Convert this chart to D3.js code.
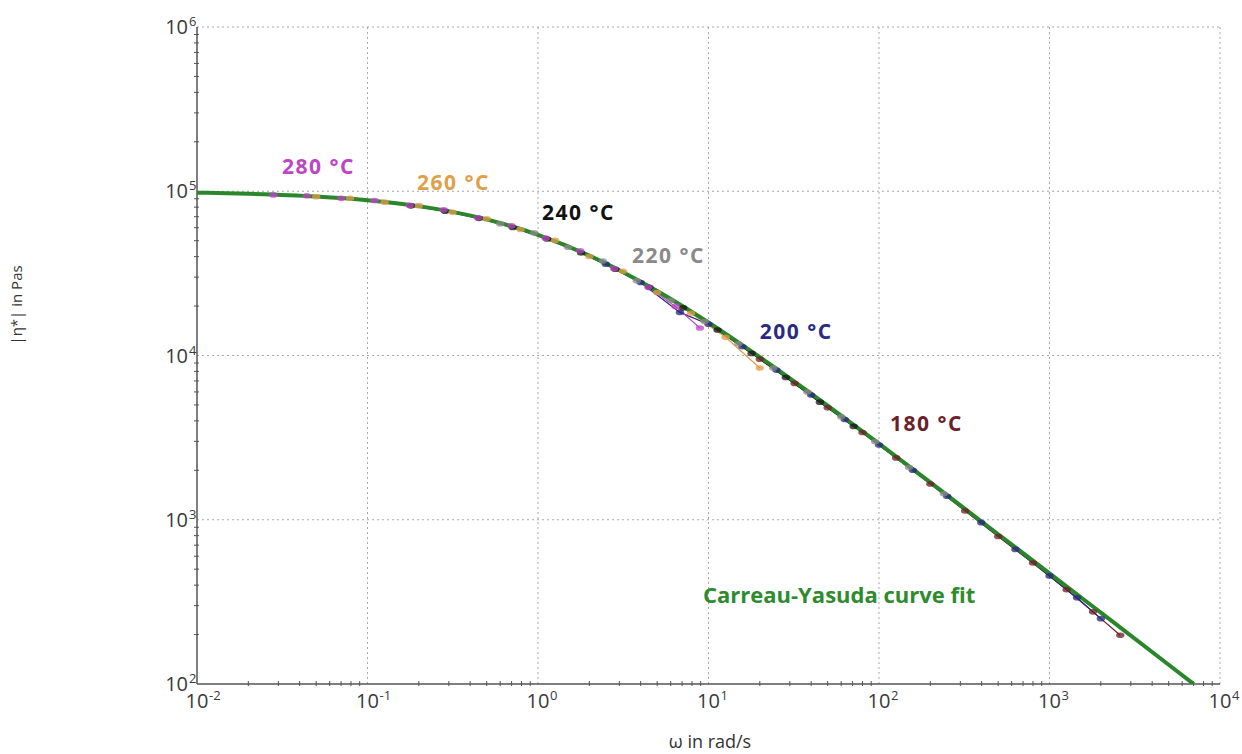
<!DOCTYPE HTML>
<html>
  <head>
    <style>
     * { margin:0;padding:0 }
     body, html {
        height: 100%;
        overflow: hidden;
        background-color: #fff;
     }
     svg text { font-family: "Open Sans", "Noto Sans", sans-serif; }
     .grid { stroke: #a8a8a8; stroke-width: 1; stroke-dasharray: 2,3; fill: none; }
     .axis { stroke: #555; stroke-width: 1.5; fill: none; }
     .tick { stroke: #555; stroke-width: 1; }
     .ticklabel { fill: #3a3a3a; }
     .templabel { font-weight: bold; font-size: 21px; letter-spacing: 1.5px; }
    </style>
    <script type="text/javascript" src="https://cdn.jsdelivr.net/npm/d3@7"></script>
  </head>
  <body>
    <script type="text/javascript">
		var width = 1242,
			height = 754;

		// decade tick exponents
		var xExponents = [-2, -1, 0, 1, 2, 3, 4],
			yExponents = [2, 3, 4, 5, 6];

		// Carreau-Yasuda fit
		var fitOmega = [0.01, 0.02, 0.05, 0.1, 0.2, 0.5, 1, 2, 5, 10, 20, 50, 100, 200, 500, 1000, 2000, 5000, 7000],
			fitEta   = [98000, 96500, 92900, 88200, 81200, 67400, 54300, 40600, 24700, 15900, 9770, 4950, 2905, 1690, 816, 472, 272, 131, 100];

		// measured (shifted) data per temperature
		var omega280 = [0.028, 0.044, 0.07, 0.11, 0.177, 0.28, 0.444, 0.70, 1.11, 1.77, 2.8, 4.44, 6.4, 8.9],
			eta280   = [95000, 93800, 90500, 87800, 82000, 77200, 69000, 61600, 51800, 43400, 33800, 26000, 19900, 14700];
		var omega260 = [0.05, 0.079, 0.126, 0.2, 0.315, 0.5, 0.79, 1.26, 2.0, 3.15, 5.0, 7.9, 12.6, 20],
			eta260   = [92500, 90600, 85800, 81700, 74400, 67900, 58500, 50200, 40100, 32600, 24200, 18100, 12900, 8400];
		var omega240 = [0.18, 0.285, 0.45, 0.71, 1.13, 1.79, 2.84, 4.5, 7.1, 11.3, 17.9, 28.4, 45, 71],
			eta240   = [81500, 75600, 68400, 60200, 51200, 42100, 33500, 26000, 19500, 14300, 10300, 7350, 5200, 3700];
		var omega220 = [0.6, 0.95, 1.5, 2.4, 3.8, 6.0, 9.5, 15, 24, 38, 60, 95, 150, 240],
			eta220   = [63500, 55800, 45600, 37600, 28500, 21700, 16100, 11800, 8400, 6000, 4230, 2980, 2080, 1440];
		var omega200 = [2.5, 4.0, 6.8, 10, 15.8, 25, 40, 63, 100, 158, 251, 398, 631, 1000, 1450, 2000],
			eta200   = [36000, 27800, 18300, 15500, 11300, 8150, 5750, 4080, 2850, 2000, 1390, 960, 660, 455, 335, 250];
		var omega180 = [20, 32, 50, 80, 126, 200, 320, 500, 800, 1260, 1800, 2600],
			eta180   = [9500, 6750, 4800, 3400, 2380, 1650, 1130, 790, 545, 375, 275, 198];

		var series = [
			{ name: "180 °C", color: "#6b1f24", omega: omega180, eta: eta180 },
			{ name: "200 °C", color: "#26267e", omega: omega200, eta: eta200 },
			{ name: "220 °C", color: "#8a8a8a", omega: omega220, eta: eta220 },
			{ name: "240 °C", color: "#151515", omega: omega240, eta: eta240 },
			{ name: "260 °C", color: "#dd9c48", omega: omega260, eta: eta260 },
			{ name: "280 °C", color: "#bd45c6", omega: omega280, eta: eta280 }
		];

		// label anchor points (omega, eta) next to each series
		var labels = [
			{ text: "280 °C", color: "#bd45c6", w: 0.0315, e: 127000 },
			{ text: "260 °C", color: "#e0a04a", w: 0.195, e: 102000 },
			{ text: "240 °C", color: "#111", w: 1.055, e: 66800 },
			{ text: "220 °C", color: "#8a8a8a", w: 3.56, e: 36600 },
			{ text: "200 °C", color: "#2a2a84", w: 20.0, e: 12600 },
			{ text: "180 °C", color: "#6b1f2a", w: 116, e: 3470 }
		];

		var x = d3.scaleLog().domain([1e-2, 1e4]).range([197, 1220]),
			y = d3.scaleLog().domain([1e2, 1e6]).range([684, 27]);

		var svg = d3.select("body").append("svg")
			.attr("width", width)
			.attr("height", height);

		svg.append("defs").append("clipPath").attr("id", "plot")
			.append("rect")
			.attr("x", x.range()[0]).attr("y", y.range()[1])
			.attr("width", x.range()[1] - x.range()[0])
			.attr("height", y.range()[0] - y.range()[1]);

		// dotted grid
		svg.selectAll("line.gx")
			.data(xExponents.slice(1))
			.enter().append("line")
			.attr("class", "grid")
			.attr("x1", function(d) { return x(Math.pow(10, d)); })
			.attr("x2", function(d) { return x(Math.pow(10, d)); })
			.attr("y1", y.range()[0]).attr("y2", y.range()[1]);

		svg.selectAll("line.gy")
			.data(yExponents.slice(1))
			.enter().append("line")
			.attr("class", "grid")
			.attr("y1", function(d) { return y(Math.pow(10, d)); })
			.attr("y2", function(d) { return y(Math.pow(10, d)); })
			.attr("x1", x.range()[0]).attr("x2", x.range()[1]);

		// minor ticks
		var xMinor = [], yMinor = [];
		xExponents.slice(0, -1).forEach(function(e) {
			for (var m = 2; m < 10; m++) xMinor.push(m * Math.pow(10, e));
		});
		yExponents.slice(0, -1).forEach(function(e) {
			for (var m = 2; m < 10; m++) yMinor.push(m * Math.pow(10, e));
		});

		svg.selectAll("line.mx")
			.data(xMinor)
			.enter().append("line")
			.attr("class", "tick")
			.attr("x1", function(d) { return x(d); })
			.attr("x2", function(d) { return x(d); })
			.attr("y1", y.range()[0] - 3).attr("y2", y.range()[0] + 2);

		svg.selectAll("line.my")
			.data(yMinor)
			.enter().append("line")
			.attr("class", "tick")
			.attr("y1", function(d) { return y(d); })
			.attr("y2", function(d) { return y(d); })
			.attr("x1", x.range()[0] - 3).attr("x2", x.range()[0] + 2);

		// axes
		svg.append("line").attr("class", "axis")
			.attr("x1", x.range()[0]).attr("x2", x.range()[0])
			.attr("y1", y.range()[1]).attr("y2", y.range()[0]);
		svg.append("line").attr("class", "axis")
			.attr("x1", x.range()[0]).attr("x2", x.range()[1])
			.attr("y1", y.range()[0]).attr("y2", y.range()[0]);

		// tick labels 10^n
		var xl = svg.selectAll("g.xl")
			.data(xExponents)
			.enter().append("g")
			.attr("transform", function(d) { return "translate(" + x(Math.pow(10, d)) + "," + (y.range()[0] + 24) + ")"; });
		xl.append("text").attr("class", "ticklabel")
			.attr("text-anchor", "middle").attr("font-size", 20)
			.text("10");
		xl.append("text").attr("class", "ticklabel")
			.attr("x", 12).attr("y", -8).attr("font-size", 13)
			.text(function(d) { return d < 0 ? "-" + (-d) : d; });

		var yl = svg.selectAll("g.yl")
			.data(yExponents)
			.enter().append("g")
			.attr("transform", function(d) { return "translate(" + (x.range()[0] - 9) + "," + (y(Math.pow(10, d)) + 7) + ")"; });
		yl.append("text").attr("class", "ticklabel")
			.attr("text-anchor", "end").attr("font-size", 20)
			.text("10");
		yl.append("text").attr("class", "ticklabel")
			.attr("x", 1).attr("y", -8).attr("font-size", 13)
			.text(function(d) { return d; });

		// axis titles
		svg.append("text")
			.attr("x", 710).attr("y", 748)
			.attr("text-anchor", "middle").attr("font-size", 18).attr("fill", "#333")
			.text("ω in rad/s");
		svg.append("text")
			.attr("transform", "translate(22,305)rotate(-90)")
			.attr("text-anchor", "middle").attr("font-size", 15).attr("fill", "#333")
			.text("|η*| in Pas");

		var plot = svg.append("g").attr("clip-path", "url(#plot)");

		var line = d3.line()
			.x(function(d) { return x(d[0]); })
			.y(function(d) { return y(d[1]); });

		// thin connecting lines of the measured data
		plot.selectAll("path.series")
			.data(series)
			.enter().append("path")
			.attr("d", function(d) { return line(d3.zip(d.omega, d.eta)); })
			.attr("fill", "none")
			.attr("stroke", function(d) { return d.color; })
			.attr("stroke-width", 1.2);

		// fit curve
		plot.append("path")
			.datum(d3.zip(fitOmega, fitEta))
			.attr("d", line.curve(d3.curveMonotoneX))
			.attr("fill", "none")
			.attr("stroke", "#2a862a")
			.attr("stroke-width", 4);

		// markers on top
		plot.selectAll("g.marks")
			.data(series)
			.enter().append("g")
			.selectAll("ellipse")
			.data(function(d) { return d3.zip(d.omega, d.eta).map(function(p) { return { p: p, c: d.color }; }); })
			.enter().append("ellipse")
			.attr("cx", function(d) { return x(d.p[0]); })
			.attr("cy", function(d) { return y(d.p[1]); })
			.attr("rx", 4.2)
			.attr("ry", 2.8)
			.attr("fill", function(d) { return d.c; })
			.attr("opacity", 0.75);

		// temperature labels
		svg.selectAll("text.templabel")
			.data(labels)
			.enter().append("text")
			.attr("class", "templabel")
			.attr("x", function(d) { return x(d.w); })
			.attr("y", function(d) { return y(d.e); })
			.attr("fill", function(d) { return d.color; })
			.text(function(d) { return d.text; });

		svg.append("text")
			.attr("x", 703).attr("y", 603)
			.attr("font-size", 22).attr("font-weight", "bold")
			.attr("fill", "#2e8b2e")
			.text("Carreau-Yasuda curve fit");
    </script>
  </body>
</html>
